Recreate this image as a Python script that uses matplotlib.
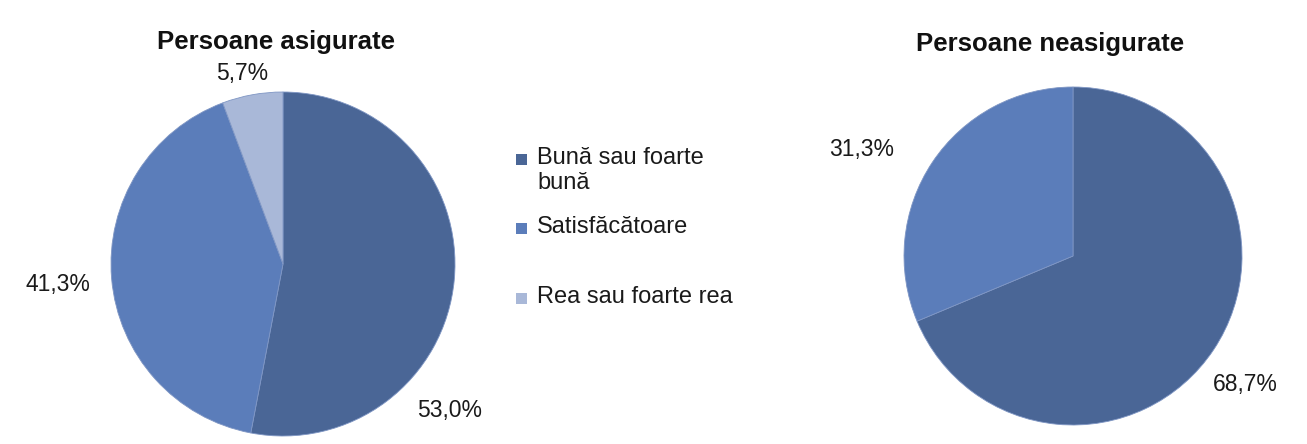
import matplotlib.pyplot as plt
from matplotlib.patches import Rectangle

plt.rcParams['font.family'] = ['Liberation Sans', 'DejaVu Sans']

categories = ["Bună sau foarte\nbună", "Satisfăcătoare", "Rea sau foarte rea"]
colors = ["#4A6696", "#5B7DBA", "#A9B8D8"]

insured = [53.0, 41.3, 5.7]
uninsured = [68.7, 31.3]

insured_labels = ["53,0%", "41,3%", "5,7%"]
uninsured_labels = ["68,7%", "31,3%"]

# label positions relative to the pie (radius = 1)
insured_label_pos = [(0.97, -0.85), (-1.31, -0.12), (-0.24, 1.11)]
uninsured_label_pos = [(1.02, -0.76), (-1.25, 0.63)]

W, H = 1307, 444
fig = plt.figure(figsize=(W / 100, H / 100), dpi=100)
fig.patch.set_facecolor("white")


def draw_pie(cx, cy, r, values, labels, label_pos, title, title_xy):
    k = 1.5
    size = 2 * r * k
    ax = fig.add_axes([(cx - size / 2) / W, 1 - (cy + size / 2) / H, size / W, size / H])
    ax.pie(values, colors=colors[:len(values)], startangle=90, counterclock=False,
           wedgeprops=dict(edgecolor="#7F96C4", linewidth=0.6))
    ax.set_xlim(-k, k)
    ax.set_ylim(-k, k)
    ax.set_aspect("equal")
    ax.axis("off")
    for lab, (x, y) in zip(labels, label_pos):
        ax.text(x, y, lab, ha="center", va="center", fontsize=16.5, color="#1a1a1a", clip_on=False)
    fig.text(title_xy[0] / W, 1 - title_xy[1] / H, title, ha="center", va="center",
             fontsize=18.5, fontweight="bold", color="#111111")


draw_pie(283, 264, 172, insured, insured_labels, insured_label_pos, "Persoane asigurate", (276, 42))
draw_pie(1073, 256, 169, uninsured, uninsured_labels, uninsured_label_pos, "Persoane neasigurate", (1050, 44))

# legend drawn by hand to keep the uneven spacing
legend_y = [159, 228, 298]
for lab, c, y in zip(categories, colors, legend_y):
    fig.patches.append(Rectangle((516 / W, 1 - (y + 6) / H), 11 / W, 11 / H,
                                 transform=fig.transFigure, facecolor=c, edgecolor="none"))
    fig.text(537 / W, 1 - (y - 12) / H, lab, ha="left", va="top", fontsize=17,
             color="#1a1a1a", linespacing=1.2)

fig.savefig("out.png", dpi=100, facecolor="white")
